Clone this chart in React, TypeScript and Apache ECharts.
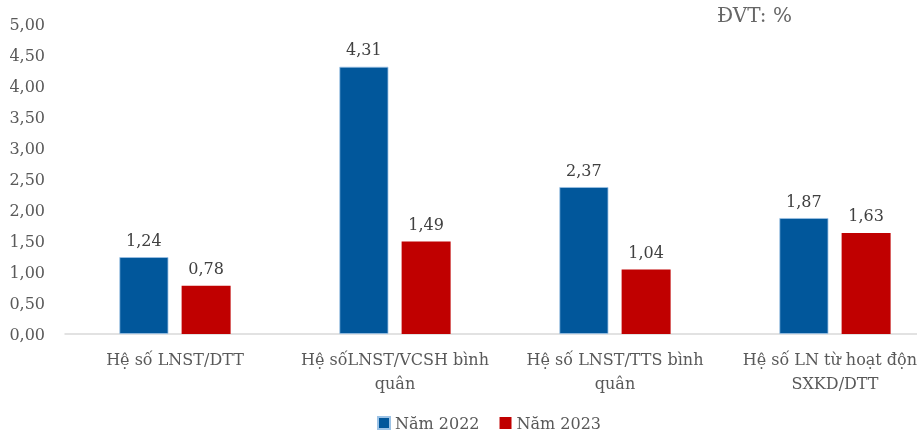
import React, { useEffect, useRef } from "react";
import * as echarts from "echarts";

const categories = [
  "Hệ số LNST/DTT",
  "Hệ sốLNST/VCSH bình\nquân",
  "Hệ số LNST/TTS bình\nquân",
  "Hệ số LN từ hoạt động\nSXKD/DTT",
];
const series2022 = [1.24, 4.31, 2.37, 1.87];
const series2023 = [0.78, 1.49, 1.04, 1.63];
const seriesNames = ["Năm 2022", "Năm 2023"];
const unitLabel = "ĐVT: %";

const FONT = "'DejaVu Serif', 'Liberation Serif', serif";
const fmt = (v: number) => v.toFixed(2).replace(".", ",");

export default function App() {
  const ref = useRef<HTMLDivElement>(null);
  useEffect(() => {
    if (!ref.current) return;
    const chart = echarts.init(ref.current, undefined, { renderer: "svg" });
    const labelStyle = {
      show: true,
      position: "top" as const,
      distance: 9,
      color: "#404040",
      fontFamily: FONT,
      fontSize: 16,
      formatter: (p: any) => fmt(p.value),
    };
    chart.setOption({
      animation: false,
      textStyle: { fontFamily: FONT },
      title: {
        text: unitLabel,
        left: 712,
        top: 0,
        textStyle: { fontFamily: FONT, fontSize: 20, fontWeight: "normal", color: "#666" },
      },
      legend: {
        data: seriesNames,
        top: 410,
        left: 372,
        itemWidth: 12,
        itemHeight: 12,
        itemGap: 20,
        icon: "rect",
        textStyle: { fontFamily: FONT, fontSize: 16, color: "#595959" },
      },
      grid: { left: 65, top: 24, width: 880, height: 310, containLabel: false },
      xAxis: {
        type: "category",
        data: categories,
        axisLine: { lineStyle: { color: "#d9d9d9", width: 1.5 } },
        axisTick: { show: false },
        axisLabel: {
          interval: 0,
          margin: 13,
          color: "#595959",
          fontFamily: FONT,
          fontSize: 16,
          lineHeight: 24,
        },
      },
      yAxis: {
        type: "value",
        min: 0,
        max: 5,
        interval: 0.5,
        splitLine: { show: false },
        axisLine: { show: false },
        axisTick: { show: false },
        axisLabel: {
          margin: 20,
          color: "#595959",
          fontFamily: FONT,
          fontSize: 16,
          formatter: (v: number) => fmt(v),
        },
      },
      series: [
        {
          name: seriesNames[0],
          type: "bar",
          data: series2022,
          barWidth: 49,
          barGap: "27%",
          itemStyle: { color: "#01579B", borderColor: "#9DC3E6", borderWidth: 0.8 },
          label: labelStyle,
        },
        {
          name: seriesNames[1],
          type: "bar",
          data: series2023,
          barWidth: 49,
          itemStyle: { color: "#C00000" },
          label: labelStyle,
        },
      ],
    });
    return () => chart.dispose();
  }, []);
  return (
    <div
      style={{
        position: "fixed",
        left: 0,
        top: 0,
        width: 917,
        height: 432,
        overflow: "hidden",
      }}
    >
      <div ref={ref} style={{ width: 960, height: 432 }} />
    </div>
  );
}
